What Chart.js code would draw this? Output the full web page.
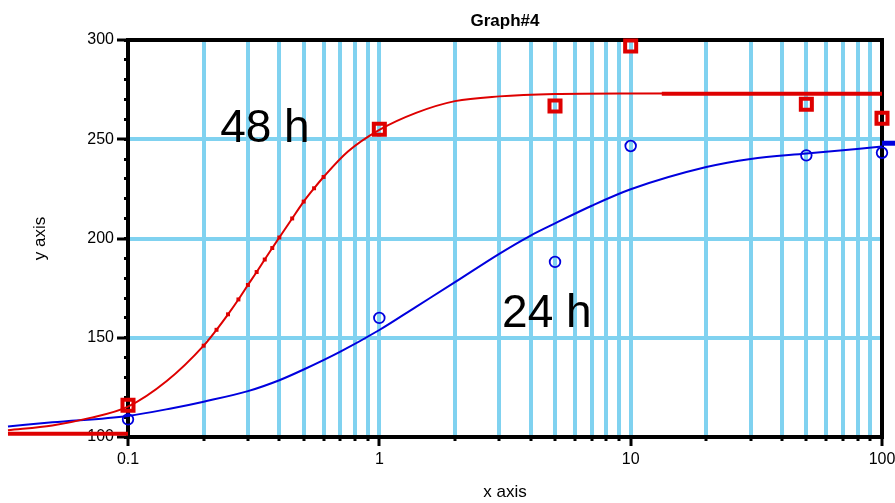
<!DOCTYPE html>
<html>
<head>
<meta charset="utf-8">
<title>Graph#4</title>
<script src="https://cdn.jsdelivr.net/npm/chart.js@4"></script>
<style>
  html, body { margin: 0; padding: 0; background: #fff; }
  canvas { display: block; }
</style>
</head>
<body>
<canvas id="graph" width="895" height="503"></canvas>
<script>
// measured points (x = dose, y = response)
const doses = [0.1, 1, 5, 10, 50, 100];
const resp48h = [116, 255, 266.8, 297, 267.6, 260.6];
const resp24h = [108.9, 160, 188.2, 246.6, 241.9, 243.2];

// fitted curves
const fit48hX = [0.0333, 0.05, 0.07, 0.1, 0.143, 0.2, 0.225, 0.25, 0.275, 0.3, 0.325, 0.35, 0.375, 0.4, 0.45, 0.5, 0.55, 0.6, 0.75, 1, 1.4, 2, 3, 5, 10, 100];
const fit48hY = [103.4, 105.8, 109.5, 115.3, 128.3, 146, 154, 161.8, 169.3, 176.6, 183.1, 189.4, 195.2, 200.5, 210.1, 218.6, 225.3, 231, 243.8, 254.7, 263.3, 269.2, 271.6, 272.8, 273.1, 273.2];
const fit24hX = [0.0333, 0.05, 0.1, 0.15, 0.2, 0.3, 0.4, 0.5, 0.7, 1, 1.4, 2, 3, 4, 5, 7, 10, 20, 30, 50, 100];
const fit24hY = [105.3, 107.4, 110.6, 114.5, 117.8, 123.1, 128.6, 134, 143, 153.9, 165.6, 178, 192.3, 201.5, 207.6, 216.5, 224.8, 236, 240.1, 242.8, 246.3];

// plateau segments
const bottom48hX = [0.0333, 0.1];
const bottom48hY = [101.7, 101.7];
const top48hX = [13.3, 100];
const top48hY = [272.9, 272.9];
const top24hX = [100, 113];
const top24hY = [248, 248];

// ticks
const xMajorTicks = [0.1, 1, 10, 100];
const xMinorTicks = [0.2, 0.3, 0.4, 0.5, 0.6, 0.7, 0.8, 0.9, 2, 3, 4, 5, 6, 7, 8, 9, 20, 30, 40, 50, 60, 70, 80, 90];
const yMajorTicks = [100, 150, 200, 250, 300];
const yMinorTicks = [100, 110, 120, 130, 140, 150, 160, 170, 180, 190, 200, 210, 220, 230, 240, 250, 260, 270, 280, 290, 300];

const RED = 'rgb(222,0,0)';
const BLUE = 'rgb(0,0,222)';
const GRID = 'rgb(128,210,240)';
const NONE = 'rgba(0,0,0,0)';

const pts = (xs, ys) => xs.map((x, i) => ({ x: x, y: ys[i] }));
// lines are listed right-to-left so Chart.js keeps the parts outside the axis range
const linePts = (xs, ys) => pts(xs, ys).reverse();
const setTicks = list => scale => { scale.ticks = list.map(v => ({ value: v })); };

Chart.defaults.font.family = '"Liberation Sans", Arial, sans-serif';
Chart.defaults.color = '#000';

// big "48 h" / "24 h" labels placed in data coordinates
const curveLabels = {
    id: 'curveLabels',
    afterDatasetsDraw(chart) {
        const { ctx, scales: { x, y } } = chart;
        ctx.save();
        ctx.font = '46px "Liberation Sans", Arial, sans-serif';
        ctx.fillStyle = '#000';
        ctx.textAlign = 'left';
        ctx.textBaseline = 'middle';
        ctx.fillText('48 h', x.getPixelForValue(0.2326), y.getPixelForValue(255));
        ctx.fillText('24 h', x.getPixelForValue(3.08), y.getPixelForValue(162));
        ctx.restore();
    }
};

const ctx = document.getElementById('graph').getContext('2d');
const graph = new Chart(ctx, {
    type: 'scatter',
    data: {
        datasets: [
            {
                label: '48 h',
                data: pts(doses, resp48h),
                xAxisID: 'x', yAxisID: 'y',
                showLine: false,
                pointStyle: 'rect',
                pointRadius: 7.8,
                pointBorderWidth: 4,
                pointBorderColor: RED,
                pointBackgroundColor: NONE,
                clip: false
            },
            {
                label: '24 h',
                data: pts(doses, resp24h),
                xAxisID: 'x', yAxisID: 'y',
                showLine: false,
                pointStyle: 'circle',
                pointRadius: 5.3,
                pointBorderWidth: 1.8,
                pointBorderColor: BLUE,
                pointBackgroundColor: NONE,
                clip: false
            },
            {
                label: '48 h fit',
                data: linePts(fit48hX, fit48hY),
                xAxisID: 'x', yAxisID: 'y',
                showLine: true,
                borderColor: RED,
                borderWidth: 2,
                cubicInterpolationMode: 'monotone',
                pointStyle: 'rect',
                // small markers along the steep part of the curve
                pointRadius: c => (c.raw && c.raw.x >= 0.19 && c.raw.x <= 0.61) ? 2.8 : 0,
                pointBorderWidth: 0,
                pointBackgroundColor: RED,
                clip: false
            },
            {
                label: '24 h fit',
                data: linePts(fit24hX, fit24hY),
                xAxisID: 'x', yAxisID: 'y',
                showLine: true,
                borderColor: BLUE,
                borderWidth: 2,
                cubicInterpolationMode: 'monotone',
                pointRadius: 0,
                clip: false
            },
            {
                label: '48 h bottom',
                data: linePts(bottom48hX, bottom48hY),
                xAxisID: 'x', yAxisID: 'y',
                showLine: true,
                borderColor: RED,
                borderWidth: 4,
                pointRadius: 0,
                clip: false
            },
            {
                label: '48 h top',
                data: linePts(top48hX, top48hY),
                xAxisID: 'x', yAxisID: 'y',
                showLine: true,
                borderColor: RED,
                borderWidth: 4,
                pointRadius: 0,
                clip: false
            },
            {
                label: '24 h top',
                data: linePts(top24hX, top24hY),
                xAxisID: 'x', yAxisID: 'y',
                showLine: true,
                borderColor: BLUE,
                borderWidth: 5,
                pointRadius: 0,
                clip: false
            }
        ]
    },
    options: {
        responsive: false,
        animation: false,
        events: [],
        layout: { padding: { left: 0, right: 13, top: 0, bottom: 0 } },
        scales: {
            x: {
                type: 'logarithmic',
                position: 'bottom',
                weight: 1,
                min: 0.1,
                max: 100,
                afterBuildTicks: setTicks(xMajorTicks),
                afterFit: s => { s.height = 66; s.paddingLeft = 0; s.paddingRight = 0; },
                ticks: {
                    autoSkip: false,
                    maxRotation: 0,
                    color: '#000',
                    font: { size: 16 },
                    padding: 4,
                    callback: v => String(v)
                },
                grid: {
                    color: c => (c.tick && c.tick.value > 0.1 && c.tick.value < 100) ? GRID : NONE,
                    lineWidth: 4,
                    tickColor: '#000',
                    tickLength: 9,
                    tickWidth: 3
                },
                border: { color: '#000', width: 4 },
                title: {
                    display: true,
                    text: 'x axis',
                    color: '#000',
                    font: { size: 17 },
                    padding: { top: 0, bottom: 0 }
                }
            },
            xMinor: {
                type: 'logarithmic',
                position: 'bottom',
                weight: 0,
                min: 0.1,
                max: 100,
                afterBuildTicks: setTicks(xMinorTicks),
                afterFit: s => { s.height = 0; s.paddingLeft = 0; s.paddingRight = 0; },
                ticks: { display: false, autoSkip: false },
                grid: {
                    color: GRID,
                    lineWidth: 4,
                    tickColor: '#000',
                    tickLength: 4,
                    tickWidth: 3
                },
                border: { display: false }
            },
            xTop: {
                type: 'linear',
                position: 'top',
                min: 0,
                max: 1,
                afterFit: s => { s.height = 0; s.paddingLeft = 0; s.paddingRight = 0; },
                ticks: { display: false },
                grid: { display: false },
                border: { color: '#000', width: 4 }
            },
            y: {
                type: 'linear',
                position: 'left',
                weight: 1,
                min: 100,
                max: 300,
                afterBuildTicks: setTicks(yMajorTicks),
                afterFit: s => { s.width = 128; },
                ticks: {
                    autoSkip: false,
                    color: '#000',
                    font: { size: 16 },
                    padding: 3
                },
                grid: {
                    color: c => (c.tick && c.tick.value > 100 && c.tick.value < 300) ? GRID : NONE,
                    lineWidth: 4,
                    tickColor: '#000',
                    tickLength: 11,
                    tickWidth: 3
                },
                border: { color: '#000', width: 4 },
                title: {
                    display: true,
                    text: 'y axis',
                    color: '#000',
                    font: { size: 17 },
                    padding: { top: 30, bottom: 0 }
                }
            },
            yMinor: {
                type: 'linear',
                position: 'left',
                weight: 0,
                min: 100,
                max: 300,
                afterBuildTicks: setTicks(yMinorTicks),
                afterFit: s => { s.width = 0; },
                ticks: { display: false, autoSkip: false },
                grid: {
                    drawOnChartArea: false,
                    tickColor: '#000',
                    tickLength: 4,
                    tickWidth: 3
                },
                border: { display: false }
            },
            yRight: {
                type: 'linear',
                position: 'right',
                min: 100,
                max: 300,
                afterFit: s => { s.width = 0; },
                ticks: { display: false },
                grid: { display: false },
                border: { color: '#000', width: 4 }
            }
        },
        plugins: {
            legend: { display: false },
            tooltip: { enabled: false },
            title: {
                display: true,
                text: 'Graph#4',
                fullSize: false,
                color: '#000',
                font: { size: 17, weight: 'bold' },
                padding: { top: 11, bottom: 8.6 }
            }
        }
    },
    plugins: [curveLabels]
});
</script>
</body>
</html>
